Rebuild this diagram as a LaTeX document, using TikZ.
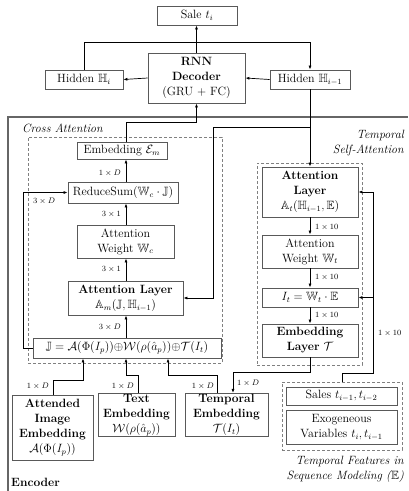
\documentclass[tikz,border=0pt]{standalone}
\usepackage{amsmath,amssymb}
\usetikzlibrary{arrows.meta}
\begin{document}
\begin{tikzpicture}[x=1pt,y=-1pt,
  font=\fontsize{12}{15}\selectfont,
  box/.style={draw=black!65, line width=0.8pt, inner sep=1pt, align=center},
  dbox/.style={draw=black!50, dash pattern=on 3pt off 2pt, line width=0.8pt, inner sep=0pt},
  arr/.style={-{Latex[length=4pt,width=3pt]}, line width=0.7pt},
  lab/.style={font=\fontsize{8}{9}\selectfont, inner sep=1pt},
  itlab/.style={font=\fontsize{12}{15}\selectfont\itshape, inner sep=0pt}]
\useasboundingbox (0,0) rectangle (408,491);

% encoder frame
\draw[black!60, line width=1.2pt] (8,491) -- (8,117) -- (408,117);

% dashed groups
\node[dbox, minimum width=194pt, minimum height=226pt] (cross) at (125,250) {};
\node[dbox, minimum width=105pt, minimum height=202pt] (tsa) at (309.5,264) {};
\node[dbox, minimum width=120pt, minimum height=68pt] (feat) at (342,416) {};

% decoder
\node[box, minimum width=80pt, minimum height=19pt] (sale) at (197,15.5) {Sale $t_i$};
\node[box, minimum width=97pt, minimum height=50pt] (rnn) at (196.5,78) {\textbf{RNN}\\\textbf{Decoder}\\(GRU + FC)};
\node[box, minimum width=78pt, minimum height=19pt] (hi) at (84,79.5) {Hidden $\mathbb{H}_i$};
\node[box, minimum width=80pt, minimum height=19pt] (hprev) at (310,79.5) {Hidden $\mathbb{H}_{i-1}$};

% cross attention
\node[box, minimum width=90pt, minimum height=17pt] (em) at (122,150.5) {Embedding $\mathcal{E}_m$};
\node[box, minimum width=110pt, minimum height=21pt] (reduce) at (123,192.5) {ReduceSum($\mathbb{W}_c\cdot\mathbb{J}$)};
\node[box, minimum width=97pt, minimum height=33pt] (attw) at (125.5,241.5) {Attention\\Weight $\mathbb{W}_c$};
\node[box, minimum width=115pt, minimum height=34pt] (attm) at (125.5,298) {\textbf{Attention Layer}\\$\mathbb{A}_m(\mathbb{J},\mathbb{H}_{i-1})$};
\node[box, minimum width=188pt, minimum height=20pt] (J) at (127,348) {$\mathbb{J}=\mathcal{A}(\Phi(I_p)){\oplus}\mathcal{W}(\rho(\hat{a}_p)){\oplus}\mathcal{T}(I_t)$};

% temporal self-attention
\node[box, minimum width=96pt, minimum height=50pt] (att) at (310,192) {\textbf{Attention}\\\textbf{Layer}\\$\mathbb{A}_t(\mathbb{H}_{i-1},\mathbb{E})$};
\node[box, minimum width=96pt, minimum height=33pt] (attwt) at (310,251.5) {Attention\\Weight $\mathbb{W}_t$};
\node[box, minimum width=96pt, minimum height=19pt] (It) at (310,297.5) {$I_t=\mathbb{W}_t\cdot\mathbb{E}$};
\node[box, minimum width=96pt, minimum height=33pt] (emb) at (310,340.5) {\textbf{Embedding}\\\textbf{Layer} $\mathcal{T}$};

% temporal features
\node[box, minimum width=111pt, minimum height=18pt] (sales) at (341.5,396) {Sales $t_{i-1},t_{i-2}$};
\node[box, minimum width=111pt, minimum height=34pt] (exo) at (341.5,427) {Exogeneous\\Variables $t_i,t_{i-1}$};

% inputs
\node[box, minimum width=81pt, minimum height=65pt] (aimg) at (52.5,427.5) {\textbf{Attended}\\\textbf{Image}\\\textbf{Embedding}\\$\mathcal{A}(\Phi(I_p))$};
\node[box, minimum width=77pt, minimum height=40pt] (txt) at (136.5,415) {\textbf{Text}\\\textbf{Embedding}\\$\mathcal{W}(\rho(\hat{a}_p))$};
\node[box, minimum width=83pt, minimum height=40pt] (temb) at (226.5,415) {\textbf{Temporal}\\\textbf{Embedding}\\$\mathcal{T}(I_t)$};

% group labels
\node[itlab, anchor=west] (lcross) at (22,128) {Cross Attention};
\node[itlab, anchor=east, align=right] (ltsa) at (404,143.5) {Temporal\\Self-Attention};
\node[itlab, anchor=east, align=right] (lfeat) at (404,469) {Temporal Features in\\Sequence Modeling ($\mathbb{E}$)};
\node[anchor=west, inner sep=0pt] (lenc) at (11,482) {\textbf{Encoder}};

% helper coordinates
\coordinate (ax) at (126,0);

% decoder connectors
\draw[arr] (rnn.north) -- (rnn.north |- sale.south);
\draw[arr] (rnn.west) -- (hi.east);
\draw[arr] (hprev.west) -- (rnn.east);
\draw[arr] (hi.north) -- (84,42) -| (hprev.north);

% cross attention connectors
\draw[arr] (em.north -| ax) -- (126,122) -| (rnn.south);
\draw[arr] (reduce.north -| ax) -- (em.south -| ax);
\draw[arr] (attw.north -| ax) -- (reduce.south -| ax);
\draw[arr] (attm.north -| ax) -- (attw.south -| ax);
\draw[arr] (J.north -| ax) -- (attm.south -| ax);
\draw[arr] (J.west) -- (23,348) |- (reduce.west);
\node[lab, anchor=east] (l1) at (122,173) {$1\times D$};
\node[lab, anchor=east] (l2) at (122,214) {$3\times 1$};
\node[lab, anchor=east] (l3) at (122,269) {$3\times 1$};
\node[lab, anchor=east] (l4) at (122,327) {$3\times D$};
\node[lab, anchor=west] (l5) at (32,201) {$3\times D$};

% hidden to attention layers
\draw[arr] (hprev.south) -- (att.north);
\draw[arr] (310,127) -- (213,127) |- (attm.east);

% temporal chain
\draw[arr] (att.south) -- (attwt.north);
\draw[arr] (attwt.south) -- (It.north);
\draw[arr] (It.south) -- (emb.north);
\node[lab, anchor=west] (l6) at (314,227) {$1\times 10$};
\node[lab, anchor=west] (l7) at (314,277) {$1\times 10$};
\node[lab, anchor=west] (l8) at (314,315) {$1\times 10$};

% features feedback
\draw[arr] (feat.north -| 342,0) -- (342,373) -- (373,373) |- (att.east);
\draw[arr] (It.east -| 373,0) -- (It.east);
\node[lab, anchor=west] (l9) at (377,333) {$1\times 10$};

% embedding layer to temporal embedding
\draw[arr] (emb.south) -- (310,372) -| ([xshift=6.5pt]temb.north);
\node[lab, anchor=west] (l10) at (236,383) {$1\times D$};

% inputs to J
\draw[arr] ([xshift=0.5pt]aimg.north) -- (53,380) -| (J.south -| 83,0);
\draw[arr] ([xshift=1.5pt]txt.north) -- (138,375) -| (J.south -| 126,0);
\draw[arr] ([xshift=-9.5pt]temb.north) -- (217,375) -| (J.south -| 168,0);
\node[lab, anchor=east] (l11) at (50,386) {$1\times D$};
\node[lab, anchor=east] (l12) at (135,386) {$1\times D$};
\node[lab, anchor=east] (l13) at (215,386) {$1\times D$};
\end{tikzpicture}
\end{document}
